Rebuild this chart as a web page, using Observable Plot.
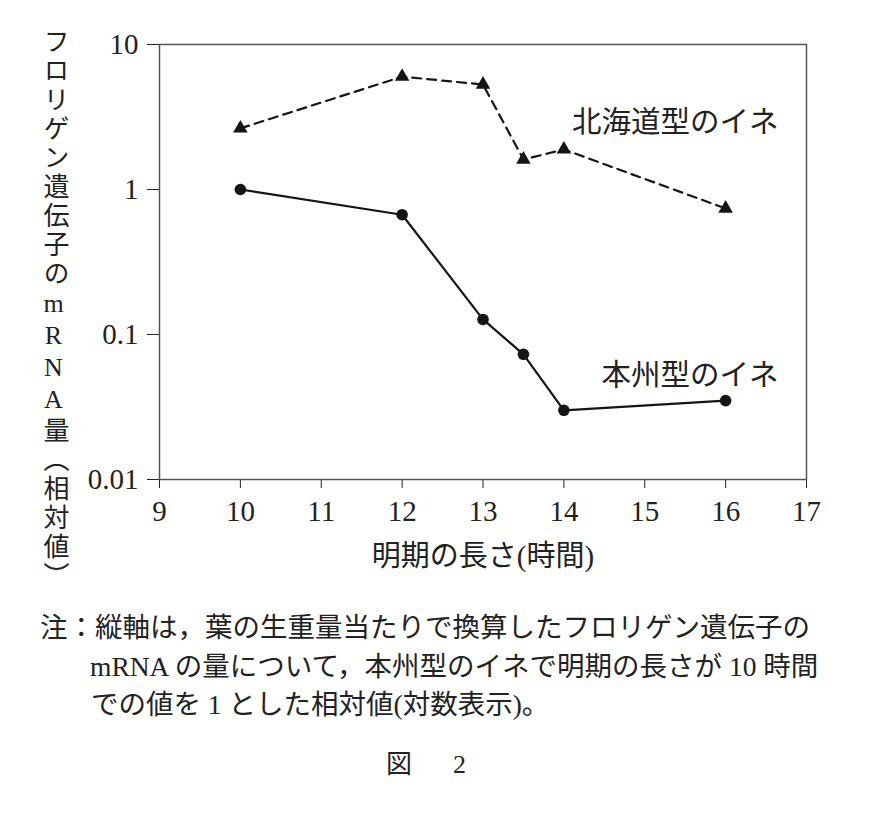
<!DOCTYPE html>
<html>
<head>
<meta charset="utf-8">
<script src="https://cdn.jsdelivr.net/npm/d3@7"></script>
<script src="https://cdn.jsdelivr.net/npm/@observablehq/plot@0.6"></script>
<style>
  html, body { margin: 0; padding: 0; background: #fff; }
  #wrap { position: relative; width: 892px; height: 813px; background: #fff; color: #222;
          font-family: "Liberation Serif", "Noto Sans CJK JP", serif; }
  #ylabel { position: absolute; left: 39px; top: 28px; writing-mode: vertical-rl; text-orientation: upright;
            font-size: 26px; letter-spacing: 3px; line-height: 28px; white-space: nowrap; }
  #chart { position: absolute; left: 0; top: 0; }
  .cap { position: absolute; font-size: 27.5px; line-height: 32px; white-space: nowrap; }
</style>
</head>
<body>
<div id="wrap">
  <div id="chart"></div>
  <div id="ylabel"></div>
  <div class="cap" id="cap1" style="left:40px; top:612px;"></div>
  <div class="cap" id="cap2" style="left:90px; top:651px;"></div>
  <div class="cap" id="cap3" style="left:91px; top:689px;"></div>
  <div class="cap" id="figA" style="left:386px; top:749px; font-size:26px;"></div>
  <div class="cap" id="figB" style="left:453px; top:749px; font-size:26px;"></div>
</div>
<script>
// ---- data ----
const hours = [10, 12, 13, 13.5, 14, 16];
const honshu = [1.0, 0.67, 0.127, 0.073, 0.030, 0.035];
const hokkaido = [2.64, 6.0, 5.3, 1.61, 1.89, 0.74];
const xTicks = [9, 10, 11, 12, 13, 14, 15, 16, 17];
const yTicks = [0.01, 0.1, 1, 10];
const yTickLabels = ["0.01", "0.1", "1", "10"];
const seriesNames = ["北海道型のイネ", "本州型のイネ"];
const xLabel = "明期の長さ(時間)";
const yLabel = "フロリゲン遺伝子のmRNA量（相対値）";
const captionLines = [
  "注：縦軸は，葉の生重量当たりで換算したフロリゲン遺伝子の",
  "mRNA の量について，本州型のイネで明期の長さが 10 時間",
  "での値を 1 とした相対値(対数表示)。"
];
const figLabel = ["図", "2"];

const honshuData = hours.map((h, i) => ({h, v: honshu[i]}));
const hokkaidoData = hours.map((h, i) => ({h, v: hokkaido[i]}));

const ink = "#151515";
const yFmt = d => yTickLabels[yTicks.indexOf(d)] ?? "";
const axisMarks = Plot.axisX ? [
  Plot.axisX({ticks: xTicks, tickSize: 9, tickPadding: 12, tickFormat: d => String(d), label: null, fontSize: 29}),
  Plot.axisY({ticks: yTicks, tickSize: 12, tickPadding: 9, tickFormat: yFmt, label: null, fontSize: 29})
] : [];
const chart = Plot.plot({
  width: 892,
  height: 590,
  marginLeft: 159,
  marginRight: 86,
  marginTop: 44,
  marginBottom: 111,
  style: {fontFamily: "'Liberation Serif','Noto Sans CJK JP',serif", fontSize: "29px", color: "#222", background: "white", overflow: "visible"},
  x: {domain: [9, 17], ticks: xTicks, tickSize: 9, tickPadding: 12, label: null, tickFormat: d => String(d)},
  y: {type: "log", domain: [0.01, 10], ticks: yTicks, tickSize: 12, tickPadding: 9, label: null, tickFormat: yFmt},
  marks: [
    ...axisMarks,
    Plot.frame({stroke: "#555", strokeWidth: 1.5}),
    Plot.line(hokkaidoData, {x: "h", y: "v", stroke: ink, strokeWidth: 2.2, strokeDasharray: "9,6"}),
    Plot.dot(hokkaidoData, {x: "h", y: "v", symbol: "triangle", r: 5.4, fill: ink, stroke: "none"}),
    Plot.line(honshuData, {x: "h", y: "v", stroke: ink, strokeWidth: 2.2}),
    Plot.dot(honshuData, {x: "h", y: "v", r: 5.8, fill: ink, stroke: "none"}),
    Plot.text([seriesNames[0]], {text: d => d, frameAnchor: "top-right", dx: -28, dy: 67, textAnchor: "end", fontSize: 29.5, fill: "#222"}),
    Plot.text([seriesNames[1]], {text: d => d, frameAnchor: "top-right", dx: -28, dy: 320, textAnchor: "end", fontSize: 29.5, fill: "#222"}),
    Plot.text([xLabel], {text: d => d, frameAnchor: "bottom", dy: 86, fontSize: 29, fill: "#222"})
  ]
});
document.getElementById("chart").appendChild(chart);
document.getElementById("ylabel").textContent = yLabel;
document.getElementById("cap1").textContent = captionLines[0];
document.getElementById("cap2").textContent = captionLines[1];
document.getElementById("cap3").textContent = captionLines[2];
document.getElementById("figA").textContent = figLabel[0];
document.getElementById("figB").textContent = figLabel[1];
</script>
</body>
</html>
